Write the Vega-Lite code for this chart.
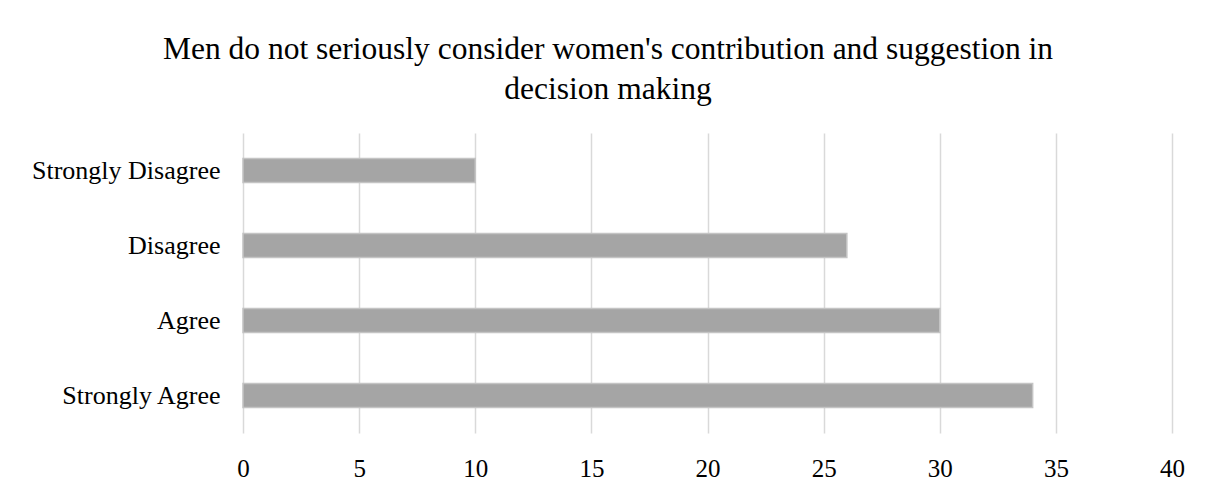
{
  "$schema": "https://vega.github.io/schema/vega-lite/v6.json",
  "autosize": {"type": "none"},
  "width": 929,
  "height": 300,
  "padding": {"left": 243, "top": 133, "right": 36, "bottom": 55},
  "background": "white",
  "title": {
    "text": ["Men do not seriously consider women's contribution and suggestion in", "decision making"],
    "font": "Liberation Serif",
    "fontSize": 31.5,
    "fontWeight": "normal",
    "lineHeight": 40,
    "color": "#000000",
    "anchor": "middle",
    "frame": "bounds",
    "offset": 28
  },
  "data": {
    "values": [
      {"response": "Strongly Disagree", "count": 10},
      {"response": "Disagree", "count": 26},
      {"response": "Agree", "count": 30},
      {"response": "Strongly Agree", "count": 34}
    ]
  },
  "mark": {"type": "bar", "fill": "#a5a5a5", "stroke": "#c4c4c4", "strokeWidth": 1.5},
  "encoding": {
    "y": {
      "field": "response",
      "type": "nominal",
      "sort": ["Strongly Disagree", "Disagree", "Agree", "Strongly Agree"],
      "scale": {"paddingInner": 0.68, "paddingOuter": 0.34},
      "axis": {
        "title": null,
        "domain": false,
        "ticks": false,
        "grid": false,
        "labelFont": "Liberation Serif",
        "labelFontSize": 26,
        "labelLimit": 400,
        "labelColor": "#000000",
        "labelPadding": 23
      }
    },
    "x": {
      "field": "count",
      "type": "quantitative",
      "scale": {"domain": [0, 40], "nice": false},
      "axis": {
        "title": null,
        "values": [0, 5, 10, 15, 20, 25, 30, 35, 40],
        "domain": false,
        "ticks": false,
        "grid": true,
        "gridColor": "#d9d9d9",
        "gridWidth": 1.5,
        "labelFont": "Liberation Serif",
        "labelFontSize": 25,
        "labelFlush": false,
        "labelColor": "#000000",
        "labelPadding": 23
      }
    }
  },
  "config": {"view": {"stroke": null}}
}
